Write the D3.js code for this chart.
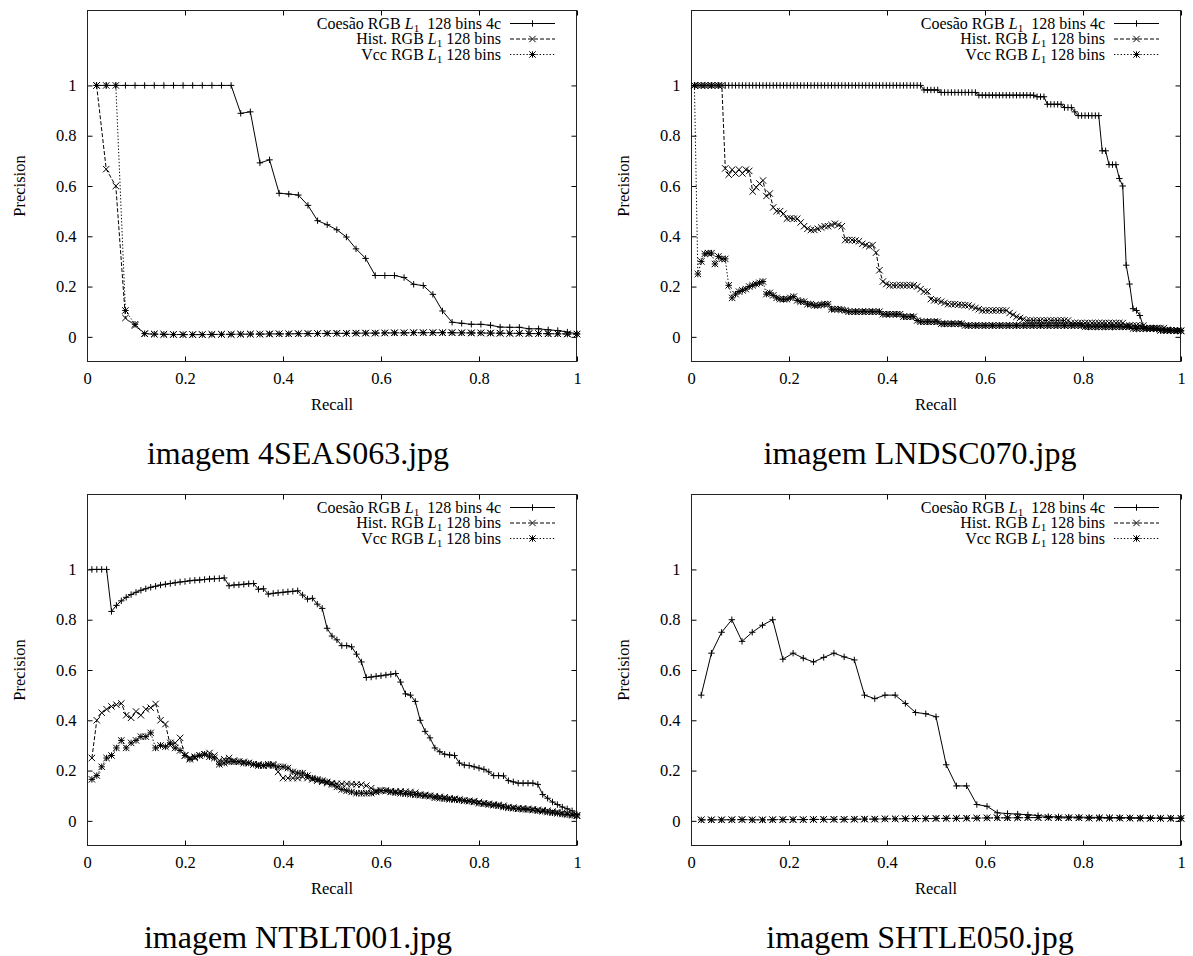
<!DOCTYPE html>
<html>
<head>
<meta charset="utf-8">
<script src="https://cdn.jsdelivr.net/npm/d3@7"></script>
<style>
  body { margin: 0; background: #fff; }
  svg text { font-family: "Liberation Serif", "Times New Roman", serif; fill: #000; }
</style>
</head>
<body>
<svg id="chart" width="1193" height="956"></svg>
<script>
// Precisão x revocação (um ponto por imagem relevante recuperada)
const titulos = ["imagem 4SEAS063.jpg", "imagem LNDSC070.jpg", "imagem NTBLT001.jpg", "imagem SHTLE050.jpg"];
const nRelevantes = [51, 143, 100, 48];   // recall = k / n
const xTicks = [0, 0.2, 0.4, 0.6, 0.8, 1];
const yTicks = [0, 0.2, 0.4, 0.6, 0.8, 1];

// --- 4SEAS063
const coesao1 = [1,1,1,1,1,1,1,1,1,1,1,1,1,1,1,
  0.889,0.895,0.692,0.704,0.571,0.568,0.564,0.523,0.462,0.446,
  0.426,0.397,0.35,0.312,0.244,0.244,0.244,0.236,0.209,0.204,
  0.169,0.103,0.058,0.054,0.05,0.05,0.046,0.039,0.038,0.038,
  0.032,0.032,0.028,0.025,0.019,0.012];
const hist1 = [1,0.667,0.6,0.075,0.045,0.012,
  0.011,0.01,0.01,0.009,0.009,0.009,0.009,0.01,0.01,0.01,
  0.011,0.011,0.011,0.012,0.012,0.012,0.013,0.013,0.013,0.014,
  0.014,0.014,0.015,0.015,0.015,0.016,0.016,0.016,0.016,0.016,
  0.016,0.016,0.016,0.015,0.015,0.015,0.014,0.014,0.014,0.013,
  0.013,0.013,0.012,0.012,0.011];
const vcc1 = [1,1,1,0.105,0.05,0.013,
  0.011,0.01,0.009,0.009,0.009,0.009,0.01,0.01,0.01,0.011,
  0.011,0.011,0.012,0.012,0.012,0.013,0.013,0.013,0.014,0.014,
  0.014,0.015,0.015,0.015,0.016,0.016,0.016,0.017,0.017,0.017,
  0.017,0.017,0.016,0.016,0.016,0.015,0.015,0.014,0.014,0.013,
  0.013,0.012,0.012,0.011,0.011];

// --- LNDSC070
const coesao2 = [1,1,1,1,1,1,1,1,1,1, 1,1,1,1,1,1,1,1,1,1,
  1,1,1,1,1,1,1,1,1,1, 1,1,1,1,1,1,1,1,1,1,
  1,1,1,1,1,1,1,1,1,1, 1,1,1,1,1,1,1,1,1,1, 1,1,1,1,1,1,1,
  0.982,0.982,0.982,0.982,0.982,
  0.972,0.972,0.972,0.972,0.972,0.972,0.972,0.972,0.972,0.972,0.972,
  0.961,0.961,0.961,0.961,0.961,0.961,0.961,0.961,0.961,0.961,
  0.961,0.961,0.961,0.961,0.961,0.961,0.961,
  0.955,0.955,0.955,
  0.925,0.925,0.925,0.925,0.925,
  0.912,0.912,0.912, 0.895,
  0.88,0.88,0.88,0.88,0.88,0.88,0.88,
  0.74,0.74, 0.685,0.685,0.685,
  0.63,0.6,0.285,0.21,0.112,0.105,0.085,0.04,
  0.035,0.033,0.032,0.03,0.029,0.028,0.027,0.026,0.025,0.024,0.023];
const hist2 = [1,1,1,1,1,1,1,1,1,
  0.67,0.645,0.665,0.65,0.665,0.65,0.665,0.66,
  0.578,0.595,0.61,0.622,0.56,0.57,0.515,0.5,0.5,0.49,
  0.47,0.472,0.47,0.47,0.455,0.44,0.43,0.425,0.425,0.43,
  0.435,0.44,0.44,0.445,0.45,0.445,0.44,0.385,0.385,0.385,
  0.383,0.38,0.37,0.365,0.36,0.365,0.335,0.265,0.22,0.21,
  0.205,0.205,0.205,0.205,0.205,0.205,0.205,0.205,
  0.2,0.19,0.18,0.18,0.15,0.145,0.145,0.14,0.135,
  0.13,0.13,0.13,0.128,0.127,0.126,0.125,
  0.12,0.115,0.11,
  0.105,0.105,0.105,0.105,0.105,0.105,0.105,0.105,
  0.095,0.088,0.08,0.075,0.07,
  0.065,0.065,0.065,0.065,0.065,0.065,0.065,0.065,0.065,0.065,0.065,0.065,0.065,
  0.055,0.055,0.055,0.055,0.055,0.055,0.055,0.055,
  0.055,0.055,0.055,0.055,0.055,0.055,0.055,0.055,
  0.045,0.045,0.045,0.045,0.045,0.045,
  0.035,0.035,0.035,0.035,0.035,0.035,
  0.028,0.026,0.025,0.024,0.023];
const vcc2 = [1,0.25,0.3,0.33,0.333,0.333,0.29,0.32,0.31,0.31,
  0.205,0.155,0.17,0.18,0.185,0.19,0.2,0.205,0.21,0.215,
  0.22,0.17,0.175,0.165,0.155,0.15,0.15,0.15,0.155,0.16,
  0.145,0.14,0.14,0.13,0.13,0.125,0.125,0.128,0.13,0.13,
  0.11,0.11,0.11,0.108,0.105,
  0.1,0.1,0.1,0.1,0.1,0.1,0.1,0.1,0.1,0.1,
  0.09,0.09,0.09,0.09,0.09,0.09,
  0.08,0.08,0.08,0.08, 0.065,
  0.06,0.06,0.06,0.06,0.06,0.06,
  0.052,0.052,0.052,0.052,0.052,0.052,0.052,
  0.045,0.045,0.045,0.045,0.045,0.045,0.045,0.045,0.045,0.045,
  0.045,0.045,0.045,0.045,0.045,0.045,0.045,0.045,0.045,0.045,
  0.045,0.045,0.045,0.045,0.045,0.045,0.045,0.045,0.045,0.045,
  0.045,0.045,0.045,0.045,0.045,
  0.04,0.04,0.04,0.04,0.04,0.04,0.04,0.04,0.04,0.04,0.04,0.04,0.04,0.04,
  0.033,0.033,0.033,0.033,0.033,0.033,0.033,0.033,
  0.025,0.025,0.025,0.025,0.025,0.025,0.025];

// --- NTBLT001
const coesao3 = [1,1,1,1,0.833,0.857,0.875,0.889,0.9,0.909,
  0.917,0.923,0.929,0.933,0.938,0.941,0.944,0.947,0.95,0.952,
  0.955,0.957,0.958,0.96,0.962,0.963,0.964,0.966,0.935,0.938,
  0.939,0.941,0.943,0.944,0.921,0.923,0.902,0.905,0.907,0.909,
  0.911,0.913,0.915,0.898,0.882,0.885,0.862,0.845,0.766,0.735,
  0.72,0.697,0.697,0.692,0.663,0.632,0.57,0.572,0.575,0.577,
  0.58,0.583,0.586,0.552,0.505,0.5,0.475,0.4,0.356,0.33,
  0.29,0.275,0.265,0.262,0.26,0.23,0.222,0.22,0.215,0.21,
  0.205,0.195,0.18,0.18,0.179,0.16,0.155,0.15,0.15,0.15,
  0.15,0.145,0.105,0.09,0.075,0.065,0.055,0.048,0.04,0.025];
const hist3 = [0.25,0.4,0.43,0.444,0.455,0.462,0.467,0.42,0.41,0.435,
  0.42,0.444,0.45,0.465,0.4,0.385,0.3,0.31,0.33,0.26,
  0.25,0.25,0.26,0.265,0.27,0.26,0.24,0.245,0.25,0.24,
  0.235,0.235,0.23,0.225,0.225,0.22,0.22,0.225,0.195,0.17,
  0.17,0.17,0.17,0.175,0.17,0.165,0.16,0.155,0.15,0.15,
  0.148,0.147,0.147,0.146,0.145,0.144,0.14,0.13,0.12,0.12,
  0.12,0.118,0.117,0.117,0.116,0.115,0.112,0.105,0.103,0.1,
  0.098,0.096,0.094,0.09,0.088,0.085,0.082,0.08,0.078,0.075,
  0.07,0.068,0.065,0.063,0.06,0.055,0.053,0.05,0.05,0.048,
  0.046,0.044,0.042,0.04,0.037,0.035,0.032,0.03,0.026,0.022];
const vcc3 = [0.165,0.18,0.215,0.25,0.26,0.29,0.32,0.29,0.31,0.32,
  0.335,0.335,0.35,0.29,0.3,0.295,0.31,0.29,0.28,0.26,
  0.245,0.255,0.26,0.265,0.255,0.25,0.225,0.23,0.235,0.235,
  0.235,0.23,0.23,0.225,0.22,0.22,0.225,0.22,0.215,0.215,
  0.21,0.195,0.19,0.19,0.18,0.17,0.165,0.16,0.155,0.145,
  0.135,0.125,0.12,0.115,0.11,0.11,0.11,0.11,0.115,0.12,
  0.12,0.115,0.112,0.11,0.108,0.106,0.104,0.102,0.1,0.098,
  0.092,0.09,0.088,0.086,0.085,0.083,0.08,0.078,0.075,0.07,
  0.068,0.065,0.062,0.06,0.055,0.052,0.05,0.048,0.046,0.045,
  0.043,0.04,0.038,0.035,0.032,0.03,0.027,0.025,0.022,0.02];

// --- SHTLE050
const coesao4 = [0.5,0.667,0.75,0.8,0.714,0.75,0.778,0.8,0.643,0.667,
  0.647,0.632,0.65,0.667,0.652,0.64,0.5,0.486,0.5,0.5,
  0.467,0.431,0.426,0.414,0.223,0.139,0.139,0.065,0.058,0.032,
  0.029,0.027,0.024,0.021,0.017,0.016,0.015,0.015,0.014,0.014,
  0.013,0.013,0.012,0.012,0.012,0.011,0.011,0.011];
const hist4 = [0.004,0.004,0.004,0.005,0.005,0.004,0.004,0.004,0.005,0.005,
  0.005,0.005,0.006,0.006,0.006,0.006,0.007,0.007,0.008,0.008,
  0.008,0.009,0.009,0.009,0.01,0.01,0.01,0.011,0.011,0.012,
  0.012,0.012,0.013,0.013,0.013,0.012,0.012,0.012,0.011,0.011,
  0.011,0.011,0.011,0.011,0.01,0.01,0.01,0.01];
const vcc4 = [0.004,0.004,0.004,0.004,0.005,0.004,0.004,0.005,0.005,0.005,
  0.005,0.006,0.006,0.006,0.006,0.007,0.007,0.007,0.008,0.008,
  0.009,0.009,0.009,0.01,0.01,0.01,0.011,0.011,0.012,0.012,
  0.012,0.013,0.013,0.013,0.013,0.012,0.012,0.012,0.011,0.011,
  0.011,0.011,0.011,0.01,0.01,0.01,0.01,0.01];

const dados = [
  [coesao1, hist1, vcc1],
  [coesao2, hist2, vcc2],
  [coesao3, hist3, vcc3],
  [coesao4, hist4, vcc4]
];

// estilos das séries (gnuplot: linha cheia/+, tracejada/x, pontilhada/*)
const series = [
  { pre: "Coesão RGB ", post: "  128 bins 4c", dash: null, marker: "plus" },
  { pre: "Hist. RGB ", post: " 128 bins", dash: "4,2", marker: "cross" },
  { pre: "Vcc RGB ", post: " 128 bins", dash: "1.3,2", marker: "star" }
];

// layout
const origens = [[87, 10], [691, 10], [87, 494], [691, 494]];
const centroTitulo = [298, 920, 298, 920];
const W = 490, H = 352;
const fs = 16.5;
const fsLeg = 16;

const x = d3.scaleLinear().domain([0, 1]).range([0, W]);
const y = d3.scaleLinear().domain([-0.1, 1.3]).range([H, 0]);

function markerPath(tipo, s = 3.2) {
  const plus = `M${-s},0H${s}M0,${-s}V${s}`;
  const cross = `M${-s},${-s}L${s},${s}M${-s},${s}L${s},${-s}`;
  if (tipo === "plus") return plus;
  if (tipo === "cross") return cross;
  return plus + cross;
}

const svg = d3.select("#chart");

dados.forEach((grupo, p) => {
  const [ox, oy] = origens[p];
  const n = nRelevantes[p];
  const g = svg.append("g").attr("transform", `translate(${ox},${oy})`);

  // eixos (ticks para dentro, espelhados)
  const axL = g.append("g").attr("transform", "translate(0.5,0)")
    .call(d3.axisLeft(y).tickValues(yTicks).tickSize(-5).tickPadding(11).tickFormat(d3.format("~g")));
  const axR = g.append("g").attr("transform", `translate(${W - 0.5},0)`)
    .call(d3.axisRight(y).tickValues(yTicks).tickSize(-5).tickFormat(""));
  const axB = g.append("g").attr("transform", `translate(0,${H - 0.5})`)
    .call(d3.axisBottom(x).tickValues(xTicks).tickSize(-5).tickPadding(11).tickFormat(d3.format("~g")));
  const axT = g.append("g").attr("transform", "translate(0,0.5)")
    .call(d3.axisTop(x).tickValues(xTicks).tickSize(-5).tickFormat(""));
  [axL, axR, axB, axT].forEach(a => {
    a.select(".domain").remove();
    a.selectAll("line").attr("stroke", "#000");
    a.selectAll("text").attr("font-size", fs).attr("font-family", null);
  });

  g.append("rect")
    .attr("x", 0.5).attr("y", 0.5).attr("width", W - 1).attr("height", H - 1)
    .attr("fill", "none").attr("stroke", "#222").attr("stroke-width", 1);

  g.append("text")
    .attr("transform", `translate(${-68},${H / 2}) rotate(-90)`)
    .attr("text-anchor", "middle").attr("dy", "0.35em")
    .attr("font-size", fs).text("Precision");
  g.append("text")
    .attr("x", W / 2).attr("y", H + 48)
    .attr("text-anchor", "middle").attr("font-size", fs).text("Recall");

  // curvas
  const line = d3.line().x(d => x(d[0])).y(d => y(d[1]));
  grupo.forEach((vals, s) => {
    const pts = vals.map((v, i) => [(i + 1) / n, v]);
    g.append("path").datum(pts)
      .attr("d", line)
      .attr("fill", "none").attr("stroke", "#000").attr("stroke-width", 1)
      .attr("stroke-dasharray", series[s].dash);
    g.append("g").selectAll("path").data(pts).join("path")
      .attr("transform", d => `translate(${x(d[0])},${y(d[1])})`)
      .attr("d", markerPath(series[s].marker))
      .attr("fill", "none").attr("stroke", "#000").attr("stroke-width", 1);
  });

  // legenda
  const leg = g.append("g");
  series.forEach((s, i) => {
    const ly = 13.5 + i * 15.5;
    const t = leg.append("text")
      .attr("x", W - 76).attr("y", ly).attr("dy", "0.33em")
      .attr("text-anchor", "end").attr("font-size", fsLeg)
      .attr("xml:space", "preserve");
    t.append("tspan").text(s.pre);
    t.append("tspan").attr("font-style", "italic").text("L");
    t.append("tspan").attr("font-size", fsLeg * 0.7).attr("dy", 3).text("1");
    t.append("tspan").attr("dy", -3).text(s.post);
    leg.append("line")
      .attr("x1", W - 67).attr("x2", W - 22).attr("y1", ly).attr("y2", ly)
      .attr("stroke", "#000").attr("stroke-dasharray", s.dash);
    leg.append("path")
      .attr("transform", `translate(${W - 44.5},${ly})`)
      .attr("d", markerPath(s.marker))
      .attr("fill", "none").attr("stroke", "#000");
  });

  // título da subfigura
  svg.append("text")
    .attr("x", centroTitulo[p]).attr("y", oy + 454)
    .attr("text-anchor", "middle").attr("font-size", 32)
    .text(titulos[p]);
});
</script>
</body>
</html>
